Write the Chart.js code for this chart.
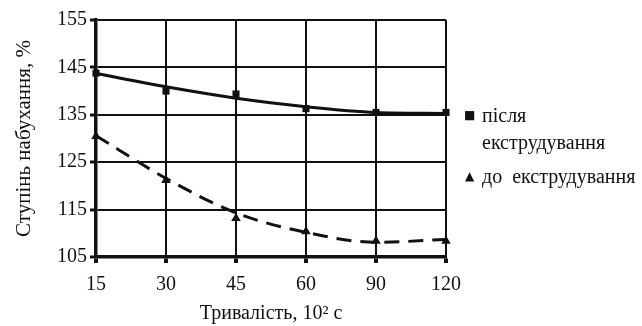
<!DOCTYPE html>
<html>
<head>
<meta charset="utf-8">
<script src="https://cdn.jsdelivr.net/npm/chart.js@4"></script>
<style>
    html, body { margin: 0; padding: 0; background: #fff; }
    #wrap { position: relative; width: 642px; height: 326px; }
    #chart { position: absolute; left: 0; top: 0; }
    .leg { position: absolute; font-family: "Liberation Serif", serif; font-size: 20px; color: #111; white-space: pre; }
    .sym { position: absolute; font-family: "DejaVu Sans", sans-serif; font-size: 12px; color: #111; }
</style>
</head>
<body>
<div id="wrap">
    <canvas id="chart" width="642" height="326"></canvas>
    <div class="sym" style="left:464px; top:108px;">&#9632;</div>
    <div class="leg" style="left:482px; top:104px;">після</div>
    <div class="leg" style="left:482px; top:131px;">екструдування</div>
    <div class="sym" style="left:465px; top:169px;">&#9650;</div>
    <div class="leg" style="left:482px; top:165px;">до  екструдування</div>
</div>
<script>
/* ==============================
   DATA
============================== */

const durations = ["15", "30", "45", "60", "90", "120"];

// measured points
const afterExtrusion = [143.8, 140.0, 139.4, 136.3, 135.5, 135.5];
const beforeExtrusion = [130.5, 121.2, 113.2, 110.4, 108.4, 108.4];

// trend lines
const afterTrend = [143.7, 140.9, 138.5, 136.7, 135.5, 135.3];
const beforeTrend = [130.6, 121.6, 114.3, 110.2, 108.1, 108.7];

const yTicksMin = 105;
const yTicksMax = 155;
const yStep = 10;

/* ==============================
   CHART
============================== */

const ink = "#111";
const serif = "'Liberation Serif', 'Times New Roman', serif";

new Chart(document.getElementById("chart"), {
    type: "line",
    data: {
        labels: durations,
        datasets: [
            {
                data: afterTrend,
                borderColor: ink,
                borderWidth: 3,
                pointRadius: 0,
                tension: 0.4,
                cubicInterpolationMode: "monotone"
            },
            {
                data: beforeTrend,
                borderColor: ink,
                borderWidth: 3,
                borderDash: [15, 9],
                pointRadius: 0,
                tension: 0.4,
                cubicInterpolationMode: "monotone"
            },
            {
                data: afterExtrusion,
                showLine: false,
                pointStyle: "rect",
                pointRadius: 5,
                backgroundColor: ink,
                borderColor: ink,
                borderWidth: 0
            },
            {
                data: beforeExtrusion,
                showLine: false,
                pointStyle: "triangle",
                pointRadius: 5.5,
                backgroundColor: ink,
                borderColor: ink,
                borderWidth: 0
            }
        ]
    },
    options: {
        responsive: false,
        animation: false,
        layout: { padding: { left: 0, right: 196, top: 20, bottom: 0 } },
        plugins: {
            legend: { display: false },
            tooltip: { enabled: false }
        },
        scales: {
            x: {
                offset: false,
                afterFit: s => { s.height = 69; },
                grid: { color: ink, lineWidth: 2, tickLength: 6, tickWidth: 4, tickColor: ink },
                border: { color: ink, width: 3.5 },
                ticks: { color: ink, font: { family: serif, size: 20 }, padding: 10, maxRotation: 0 },
                title: {
                    display: true,
                    text: "Тривалість, 10² с",
                    color: ink,
                    font: { family: serif, size: 20 },
                    padding: { top: 9, bottom: 0 }
                }
            },
            y: {
                min: yTicksMin,
                max: yTicksMax,
                afterFit: s => { s.width = 96; },
                grid: { color: ink, lineWidth: 2, tickLength: 6, tickWidth: 3, tickColor: ink },
                border: { color: ink, width: 3.5 },
                ticks: { stepSize: yStep, color: ink, font: { family: serif, size: 20 }, padding: 3 },
                title: {
                    display: true,
                    text: "Ступінь набухання, %",
                    color: ink,
                    font: { family: serif, size: 21 },
                    padding: { top: 12, bottom: 4 }
                }
            }
        }
    }
});
</script>
</body>
</html>
